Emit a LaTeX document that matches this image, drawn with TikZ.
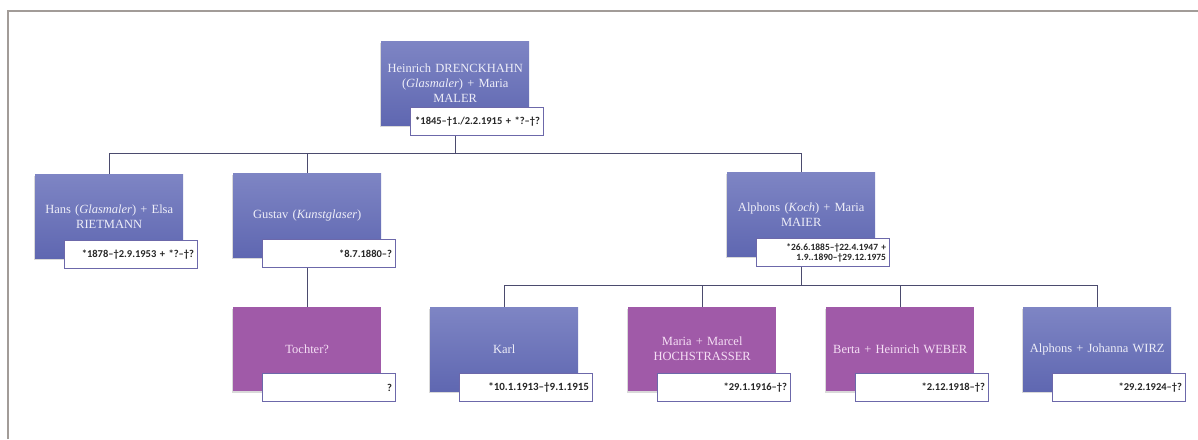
\documentclass[tikz,border=0pt]{standalone}
\usepackage{fontspec}
\setmainfont{Liberation Serif}
\newfontfamily\datefont{Carlito}
\usetikzlibrary{positioning,shadows,backgrounds}
\definecolor{ftFrame}{HTML}{A29C98}
\definecolor{ftLine}{HTML}{4B4B6E}
\definecolor{ftBlueTop}{HTML}{7E85C4}
\definecolor{ftBlueBottom}{HTML}{5F67B1}
\definecolor{ftPurple}{HTML}{A05AA8}
\definecolor{ftBlueText}{HTML}{EEEEF8}
\definecolor{ftPurpleText}{HTML}{F5DFF5}
\definecolor{ftDateRule}{HTML}{6C68AA}
\definecolor{ftInk}{HTML}{262626}
\tikzset{
  ft person/.style={
    rectangle, anchor=north west,
    minimum width=148pt, minimum height=84pt,
    text width=144pt, align=center, inner sep=0pt,
    font=\fontsize{12.5}{15}\selectfont,
    drop shadow={shadow xshift=-1.5pt, shadow yshift=-2pt, opacity=.3}
  },
  ft blue/.style={ft person, top color=ftBlueTop, bottom color=ftBlueBottom, text=ftBlueText},
  ft purple/.style={ft person, fill=ftPurple, text=ftPurpleText},
  ft dates/.style={
    rectangle, anchor=north east,
    draw=ftDateRule, line width=.8pt, fill=white,
    minimum width=133pt, minimum height=28pt,
    text width=127pt, align=right, inner xsep=3pt, inner ysep=0pt,
    font=\datefont\bfseries\fontsize{10.5}{11}\selectfont, text=ftInk
  },
  ft branch/.style={draw=ftLine, line width=.9pt},
  ft frame/.style={draw=ftFrame, line width=1.2pt}
}

\begin{document}
\begin{tikzpicture}[x=1pt,y=-1pt]
  \useasboundingbox (0,0) rectangle (1198,439);
  \draw[ft frame] (8,439) -- (8,11) -- (1198,11);

  \node[ft blue] (heinrich) at (381,41) {Heinrich DRENCKHAHN\\(\textit{Glasmaler}) + Maria\\MALER};
  \node[ft dates] (heinrichDates) at ([shift={(14pt,18pt)}]heinrich.south east) {*1845–†1./2.2.1915 + *?–†?};

  \node[ft blue] (hans) at (35,174) {Hans (\textit{Glasmaler}) + Elsa\\RIETMANN};
  \node[ft dates] (hansDates) at ([shift={(14pt,18pt)}]hans.south east) {*1878–†2.9.1953 + *?–†?};

  \node[ft blue] (gustav) at (233,173) {Gustav (\textit{Kunstglaser})};
  \node[ft dates] (gustavDates) at ([shift={(14pt,18pt)}]gustav.south east) {*8.7.1880–?};

  \node[ft blue] (alphons) at (727,172) {Alphons (\textit{Koch}) + Maria\\MAIER};
  \node[ft dates, font=\datefont\bfseries\fontsize{9.5}{10}\selectfont] (alphonsDates)
    at ([shift={(14pt,18pt)}]alphons.south east) {*26.6.1885–†22.4.1947 +\\*1.9..1890–†29.12.1975};

  \node[ft purple] (tochter) at (233,307) {Tochter?};
  \node[ft dates] (tochterDates) at ([shift={(14pt,18pt)}]tochter.south east) {?};

  \node[ft blue] (karl) at (430,307) {Karl};
  \node[ft dates, font=\datefont\bfseries\fontsize{11}{12}\selectfont] (karlDates)
    at ([shift={(14pt,18pt)}]karl.south east) {*10.1.1913–†9.1.1915};

  \node[ft purple] (maria) at (628,307) {Maria + Marcel\\HOCHSTRASSER};
  \node[ft dates] (mariaDates) at ([shift={(14pt,18pt)}]maria.south east) {*29.1.1916–†?};

  \node[ft purple] (berta) at (826,307) {Berta + Heinrich WEBER};
  \node[ft dates] (bertaDates) at ([shift={(14pt,18pt)}]berta.south east) {*2.12.1918–†?};

  \node[ft blue] (alphonsJr) at (1023,307) {Alphons + Johanna WIRZ};
  \node[ft dates] (alphonsJrDates) at ([shift={(14pt,18pt)}]alphonsJr.south east) {*29.2.1924–†?};

  \begin{scope}[on background layer]
    \coordinate (childBus) at (0,153);
    \coordinate (grandBus) at (0,285);
    \draw[ft branch] (heinrich.south) -- (heinrich.south |- childBus) -| (hans.north);
    \draw[ft branch] (heinrich.south |- childBus) -| (gustav.north);
    \draw[ft branch] (heinrich.south |- childBus) -| (alphons.north);
    \draw[ft branch] (gustav.south) -- (tochter.north);
    \draw[ft branch] (alphons.south) -- (alphons.south |- grandBus) -| (karl.north);
    \draw[ft branch] (alphons.south |- grandBus) -| (maria.north);
    \draw[ft branch] (alphons.south |- grandBus) -| (berta.north);
    \draw[ft branch] (alphons.south |- grandBus) -| (alphonsJr.north);
  \end{scope}
\end{tikzpicture}
\end{document}
